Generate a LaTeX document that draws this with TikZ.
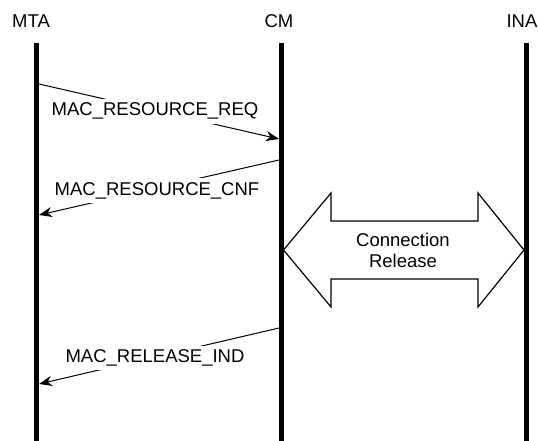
\documentclass[tikz,border=0pt]{standalone}
\usepackage{fontspec}
\setmainfont{Liberation Sans}
\usetikzlibrary{arrows.meta}

\tikzset{
  lifeline/.style={line width=5pt, black},
  msg/.style={line width=1pt, -{Stealth[length=13pt, width=10pt, inset=4pt]}},
  msglabel/.style={fill=white, inner xsep=1pt, inner ysep=4pt, anchor=base,
    font=\fontsize{18.5}{22}\selectfont},
  entity/.style={anchor=base, inner sep=0pt, font=\fontsize{18.5}{22}\selectfont},
  bigarrow/.style={line width=1.2pt, fill=white, line join=miter},
  bigtext/.style={align=center, inner sep=0pt, font=\fontsize{18.5}{21}\selectfont}
}

\begin{document}
\begin{tikzpicture}[x=1pt, y=-1pt]
  \useasboundingbox (0,0) rectangle (538,441);

  % entity names
  \node[entity] (mta) at (31,27.5) {MTA};
  \node[entity] (cm)  at (279,27.5) {CM};
  \node[entity] (ina) at (522,27.5) {INA};

  % lifelines
  \coordinate (mtaTop) at (36.5,43);  \coordinate (mtaBot) at (36.5,441);
  \coordinate (cmTop)  at (281.5,43); \coordinate (cmBot)  at (281.5,441);
  \coordinate (inaTop) at (526,43);   \coordinate (inaBot) at (526,441);
  \draw[lifeline] (mtaTop) -- (mtaBot);
  \draw[lifeline] (cmTop) -- (cmBot);
  \draw[lifeline] (inaTop) -- (inaBot);

  % message end points on the lifeline edges
  \coordinate (reqFrom) at (39,84);   \coordinate (reqTo) at (279,139);
  \coordinate (cnfFrom) at (279,160); \coordinate (cnfTo) at (39,215);
  \coordinate (relFrom) at (279,328); \coordinate (relTo) at (39,384);

  \draw[msg] (reqFrom) -- (reqTo);
  \draw[msg] (cnfFrom) -- (cnfTo);
  \draw[msg] (relFrom) -- (relTo);

  \node[msglabel] (reqLabel) at (155,116) {MAC\_RESOURCE\_REQ};
  \node[msglabel] (cnfLabel) at (157,195) {MAC\_RESOURCE\_CNF};
  \node[msglabel] (relLabel) at (155,362.5) {MAC\_RELEASE\_IND};

  % connection release between CM and INA
  \draw[bigarrow] (283.5,250) -- (331,193) -- (331,221) -- (478,221) -- (478,193)
    -- (524,250) -- (478,307) -- (478,279) -- (331,279) -- (331,307) -- cycle;
  \node[bigtext] (release) at (403,250) {Connection\\Release};
\end{tikzpicture}
\end{document}
